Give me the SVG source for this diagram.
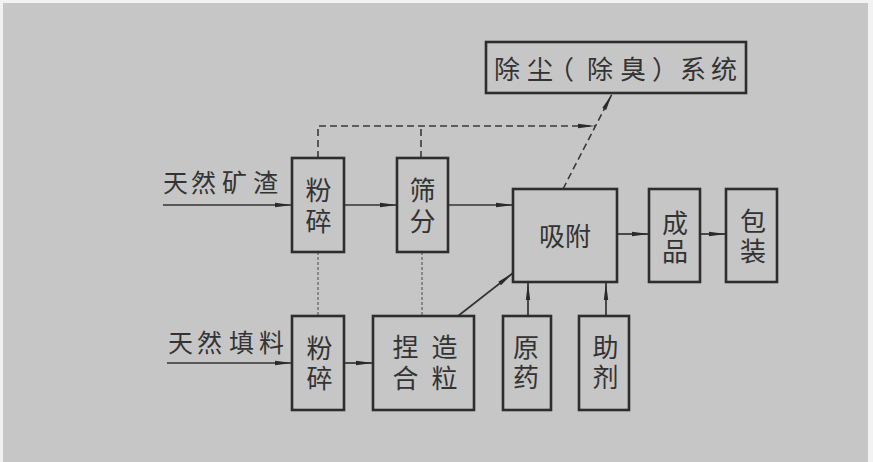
<svg xmlns="http://www.w3.org/2000/svg" width="873" height="462" viewBox="0 0 873 462">
<defs>
<marker id="ah" markerUnits="userSpaceOnUse" markerWidth="18" markerHeight="8" viewBox="0 0 18 8" refX="17" refY="4" orient="auto">
<path d="M0,1.8 L17,4 L0,6.2 Z" fill="#2a2a2a"/>
</marker>
<style>
.box{fill:none;stroke:#2d2d2d;stroke-width:2.6}
.ln{fill:none;stroke:#333;stroke-width:1.7}
.arr{marker-end:url(#ah)}
.dash{fill:none;stroke:#3a3a3a;stroke-width:1.6;stroke-dasharray:7,4}
.fine{fill:none;stroke:#555;stroke-width:1.1;stroke-dasharray:3,2}
.t{font-family:"Noto Sans CJK SC","Noto Sans CJK JP",sans-serif;font-size:26px;fill:#333}
.tc{text-anchor:middle}
</style>
</defs>
<rect x="0" y="0" width="873" height="462" fill="#f2f2f2"/>
<rect x="3" y="3" width="865" height="459" fill="#c6c6c6"/>

<g id="connectors">
<line class="ln arr" x1="163" y1="205" x2="292" y2="205"/>
<line class="ln arr" x1="344" y1="205" x2="397" y2="205"/>
<line class="ln arr" x1="448" y1="205" x2="513" y2="205"/>
<line class="ln arr" x1="617" y1="234" x2="649" y2="234"/>
<line class="ln arr" x1="700" y1="234" x2="726" y2="234"/>
<line class="ln arr" x1="167" y1="363" x2="292" y2="363"/>
<line class="ln arr" x1="344" y1="363" x2="373" y2="363"/>
<line class="ln arr" x1="458" y1="316" x2="513" y2="273"/>
<line class="ln arr" x1="528" y1="316" x2="528" y2="283"/>
<line class="ln arr" x1="606" y1="316" x2="606" y2="283"/>
<polyline class="dash arr" points="318,158 318,126 595,126"/>
<line class="dash" x1="421" y1="158" x2="421" y2="126"/>
<line class="dash arr" x1="563" y1="189" x2="612" y2="94"/>
<line class="fine" x1="318" y1="252" x2="318" y2="316"/>
<line class="fine" x1="422" y1="252" x2="422" y2="316"/>
</g>

<g id="n-dust">
<rect class="box" x="486" y="42" width="260" height="51"/>
<text class="t" x="494 527 548 587 620 652 680 711" y="79">除尘（除臭）系统</text>
</g>
<g id="label-ore">
<text class="t" x="163 191 222 253" y="192" style="font-size:25px">天然矿渣</text>
</g>
<g id="label-filler">
<text class="t" x="168 197 229 259" y="351.5" style="font-size:25px">天然填料</text>
</g>
<g id="n-crush1">
<rect class="box" x="292" y="158" width="52" height="94"/>
<text class="t tc" x="318.5" y="200">粉</text>
<text class="t tc" x="318.5" y="230.5">碎</text>
</g>
<g id="n-sieve">
<rect class="box" x="397" y="158" width="51" height="94"/>
<text class="t tc" x="422.5" y="200">筛</text>
<text class="t tc" x="422.5" y="230.5">分</text>
</g>
<g id="n-adsorb">
<rect class="box" x="513" y="189" width="104" height="93"/>
<text class="t tc" x="565" y="246">吸附</text>
</g>
<g id="n-product">
<rect class="box" x="649" y="189" width="51" height="93"/>
<text class="t tc" x="675" y="232.5">成</text>
<text class="t tc" x="675" y="261">品</text>
</g>
<g id="n-pack">
<rect class="box" x="726" y="189" width="51" height="93"/>
<text class="t tc" x="753" y="230.5">包</text>
<text class="t tc" x="753" y="260.5">装</text>
</g>
<g id="n-crush2">
<rect class="box" x="292" y="316" width="52" height="94"/>
<text class="t tc" x="319.5" y="357.5">粉</text>
<text class="t tc" x="319.5" y="387.5">碎</text>
</g>
<g id="n-granulate">
<rect class="box" x="373" y="316" width="101" height="94"/>
<text class="t tc" x="405.5" y="356.5">捏</text>
<text class="t tc" x="444.5" y="356.5">造</text>
<text class="t tc" x="405.5" y="387.5">合</text>
<text class="t tc" x="444.5" y="387.5">粒</text>
</g>
<g id="n-drug">
<rect class="box" x="503" y="316" width="48" height="94"/>
<text class="t tc" x="526" y="356.5">原</text>
<text class="t tc" x="526" y="386.5">药</text>
</g>
<g id="n-aux">
<rect class="box" x="579" y="316" width="50" height="94"/>
<text class="t tc" x="605.5" y="356.5">助</text>
<text class="t tc" x="605.5" y="386.5">剂</text>
</g>
</svg>
